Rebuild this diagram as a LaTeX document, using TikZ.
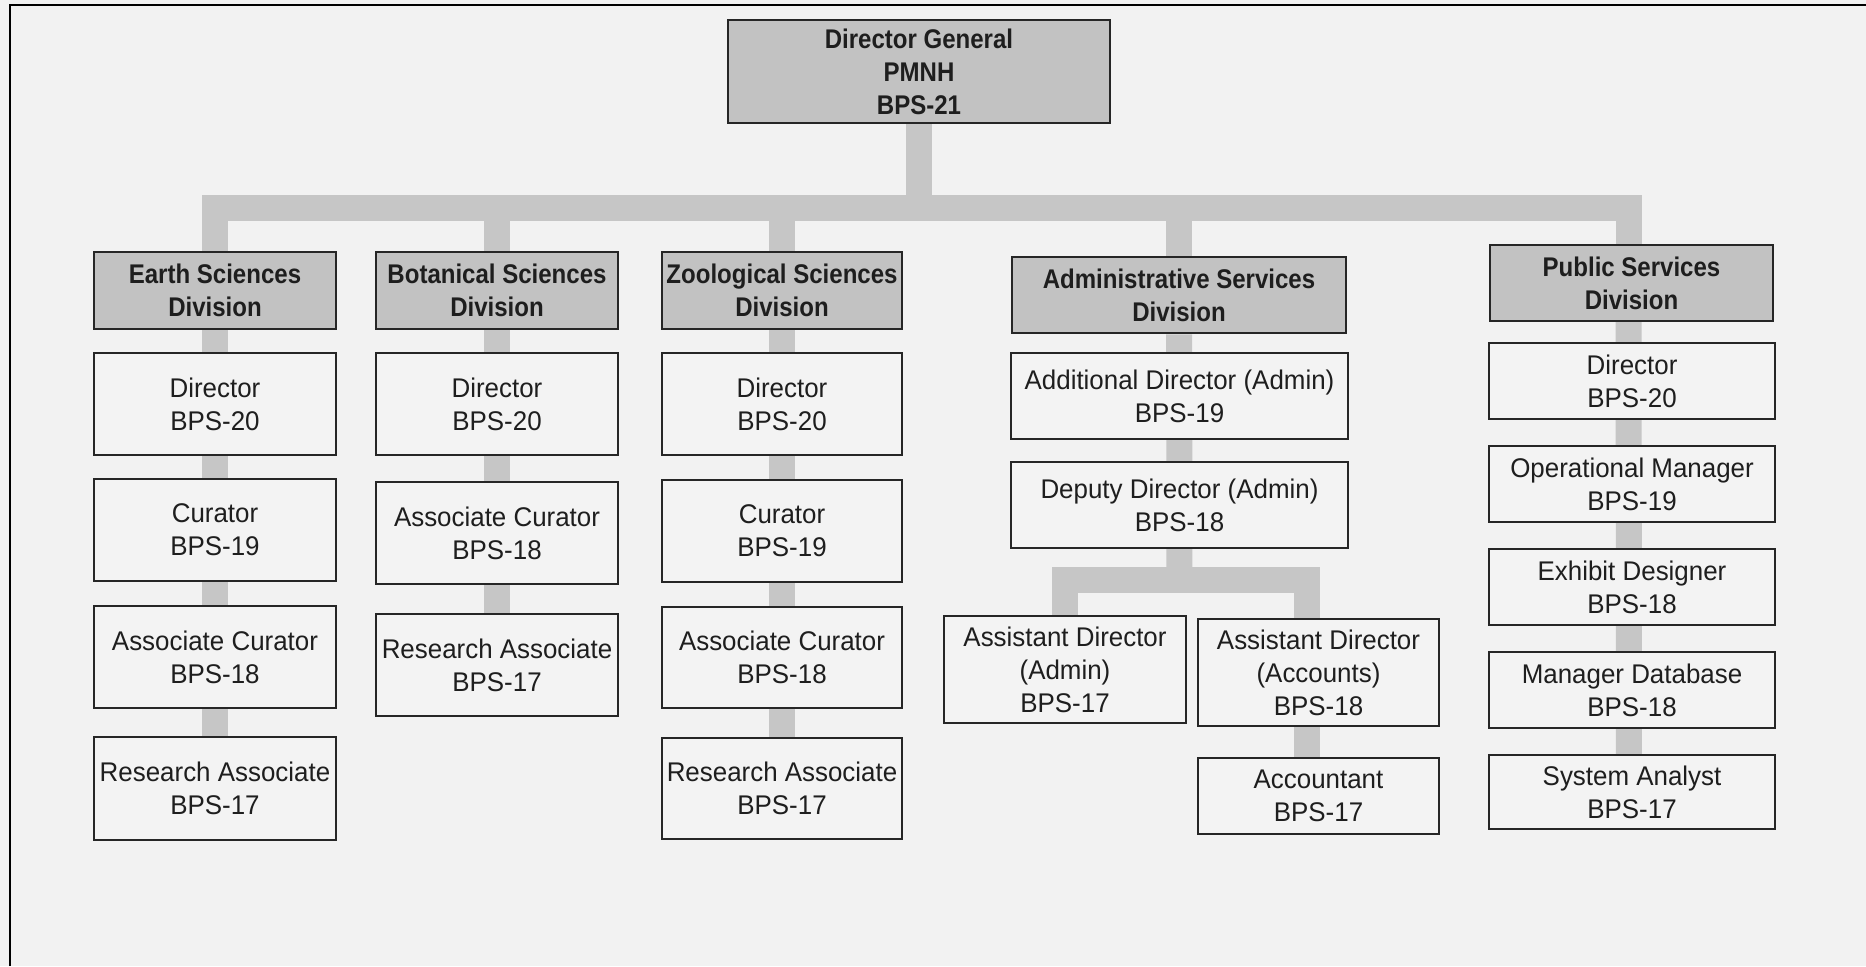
\documentclass[tikz,border=0pt]{standalone}
\usepackage{fontspec}
\setmainfont{Liberation Sans}[FakeStretch=0.96]
\newfontfamily\hdrfont{Liberation Sans}[FakeStretch=0.89]
\pgfdeclarelayer{bg}
\pgfsetlayers{bg,main}
\definecolor{bgcol}{HTML}{F2F2F2}
\definecolor{hdrfill}{HTML}{C2C2C2}
\definecolor{conncol}{HTML}{C6C6C6}
\definecolor{boxline}{HTML}{262626}
\definecolor{boxfill}{HTML}{F3F3F3}
\definecolor{txt}{HTML}{1E1E1E}
\tikzset{
  box/.style={draw=boxline, line width=1.3pt, fill=boxfill, text=txt, align=center, inner sep=0pt,
    font=\fontsize{13.5}{16.5}\selectfont},
  hdr/.style={box, fill=hdrfill, font=\hdrfont\fontsize{13.5}{16.5}\selectfont\bfseries},
  conn/.style={draw=conncol, line width=13pt, line join=miter},
  frameline/.style={draw=black, line width=1.3pt}
}
\begin{document}
\begin{tikzpicture}[x=0.5pt, y=-0.5pt]
\useasboundingbox (0,0) rectangle (1866,966);
\begin{pgfonlayer}{bg}
\fill[bgcol] (0,0) rectangle (1866,966);
\end{pgfonlayer}
\draw[frameline] (10,966) -- (10,5) -- (1866,5);
% top
\node[hdr, minimum width=191pt, minimum height=51.5pt] (dg) at (919,71.5) {Director General\\PMNH\\BPS-21};
% divisions
\node[hdr, minimum width=121pt, minimum height=38.5pt] (earth) at (215,290.5) {Earth Sciences\\Division};
\node[hdr, minimum width=121pt, minimum height=38.5pt] (bot) at (497,290.5) {Botanical Sciences\\Division};
\node[hdr, minimum width=120pt, minimum height=38.5pt] (zoo) at (782,290.5) {Zoological Sciences\\Division};
\node[hdr, minimum width=167pt, minimum height=38pt] (adm) at (1179,295) {Administrative Services\\Division};
\node[hdr, minimum width=141.5pt, minimum height=38pt] (pub) at (1631.5,283) {Public Services\\Division};
% earth
\node[box, minimum width=121pt, minimum height=51pt] (e1) at (215,404) {Director\\BPS-20};
\node[box, minimum width=121pt, minimum height=51pt] (e2) at (215,530) {Curator\\BPS-19};
\node[box, minimum width=121pt, minimum height=51pt] (e3) at (215,657) {Associate Curator\\BPS-18};
\node[box, minimum width=121pt, minimum height=51.5pt] (e4) at (215,788.5) {Research Associate\\BPS-17};
% botanical
\node[box, minimum width=121pt, minimum height=51pt] (b1) at (497,404) {Director\\BPS-20};
\node[box, minimum width=121pt, minimum height=51pt] (b2) at (497,533) {Associate Curator\\BPS-18};
\node[box, minimum width=121pt, minimum height=51pt] (b3) at (497,665) {Research Associate\\BPS-17};
% zoological
\node[box, minimum width=120pt, minimum height=51pt] (z1) at (782,404) {Director\\BPS-20};
\node[box, minimum width=120pt, minimum height=51pt] (z2) at (782,531) {Curator\\BPS-19};
\node[box, minimum width=120pt, minimum height=50.5pt] (z3) at (782,657.5) {Associate Curator\\BPS-18};
\node[box, minimum width=120pt, minimum height=50.5pt] (z4) at (782,788.5) {Research Associate\\BPS-17};
% administrative
\node[box, minimum width=168.5pt, minimum height=43pt] (a1) at (1179.5,396) {Additional Director (Admin)\\BPS-19};
\node[box, minimum width=168.5pt, minimum height=43pt] (a2) at (1179.5,505) {Deputy Director (Admin)\\BPS-18};
\node[box, minimum width=121pt, minimum height=53.5pt] (a3) at (1065,669.5) {Assistant Director\\(Admin)\\BPS-17};
\node[box, minimum width=120.5pt, minimum height=53.5pt] (a4) at (1318.5,672.5) {Assistant Director\\(Accounts)\\BPS-18};
\node[box, minimum width=120.5pt, minimum height=38pt] (a5) at (1318.5,796) {Accountant\\BPS-17};
% public
\node[box, minimum width=143pt, minimum height=38pt] (p1) at (1632,381) {Director\\BPS-20};
\node[box, minimum width=143pt, minimum height=38pt] (p2) at (1632,484) {Operational Manager\\BPS-19};
\node[box, minimum width=143pt, minimum height=38pt] (p3) at (1632,587) {Exhibit Designer\\BPS-18};
\node[box, minimum width=143pt, minimum height=38pt] (p4) at (1632,690) {Manager Database\\BPS-18};
\node[box, minimum width=143pt, minimum height=37pt] (p5) at (1632,792) {System Analyst\\BPS-17};
% connectors
\coordinate (bus) at (919,208);
\coordinate (subbus) at (1179,580);
\begin{pgfonlayer}{bg}
\draw[conn] (dg) -- (dg |- bus);
\draw[conn] (earth) -- (earth |- bus) -- ([xshift=-1.5pt]pub.center |- bus) -- ([xshift=-1.5pt]pub.center);
\draw[conn] (bot) -- (bot |- bus);
\draw[conn] (zoo) -- (zoo |- bus);
\draw[conn] (adm) -- (adm |- bus);
\draw[conn] (earth) -- (e4);
\draw[conn] (bot) -- (b3);
\draw[conn] (zoo) -- (z4);
\draw[conn] ([xshift=-1.5pt]pub.center) -- ([xshift=-1.5pt]p5.center);
\draw[conn] (adm) -- (a2.center |- subbus);
\draw[conn] (a3) -- (a3 |- subbus) -- ([xshift=-6pt]a4.center |- subbus) -- ([xshift=-6pt]a4.center) -- ([xshift=-6pt]a5.center);
\end{pgfonlayer}
\end{tikzpicture}
\end{document}
